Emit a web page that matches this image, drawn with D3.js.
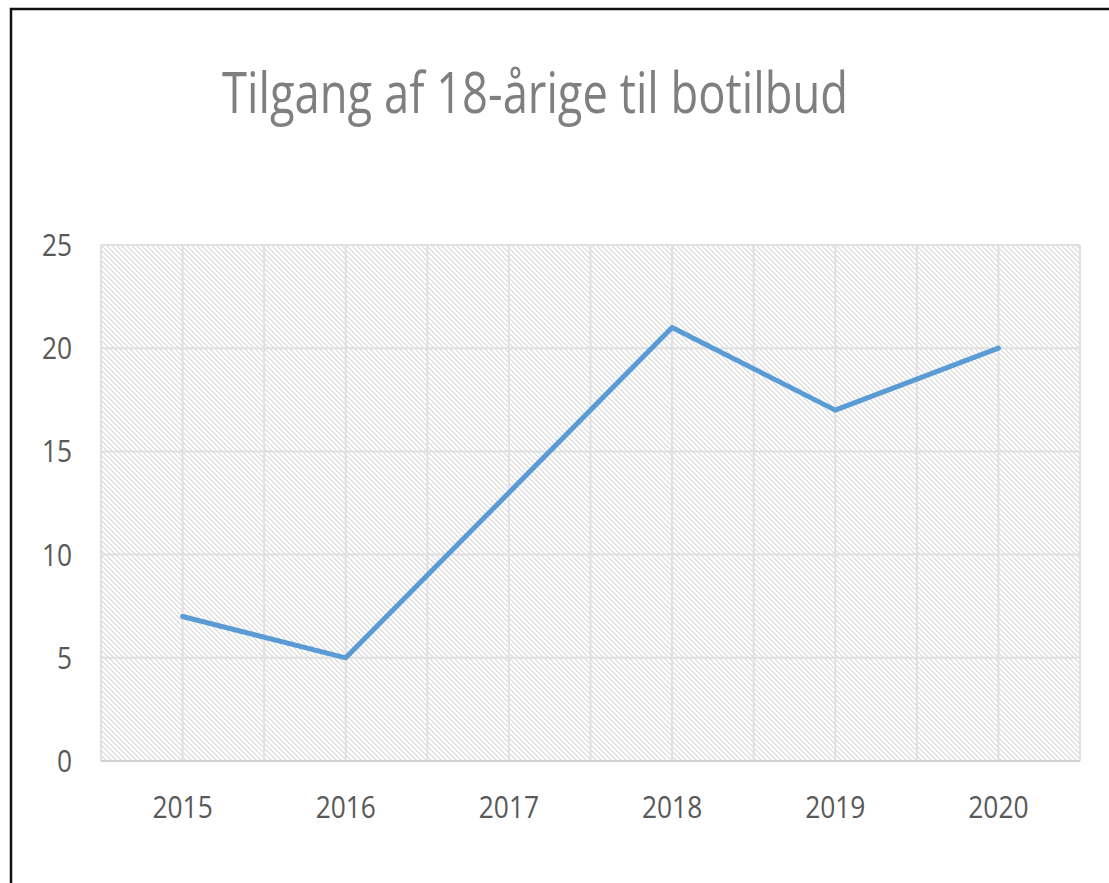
<!DOCTYPE html>
<html>
<head>
<meta charset="utf-8">
<script src="https://cdn.jsdelivr.net/npm/d3@7"></script>
<style>
  html, body { margin: 0; padding: 0; background: #fff; }
  svg { display: block; }
  text { font-family: "Open Sans", sans-serif; }
</style>
</head>
<body>
<div id="vis"></div>
<script>
// data
var years = ["2015", "2016", "2017", "2018", "2019", "2020"];
var values = [7, 5, 13, 21, 17, 20];
var yTicks = [0, 5, 10, 15, 20, 25];
var title = "Tilgang af 18-årige til botilbud";

var W = 1109, H = 883;
var margin = {top: 245, right: 29, bottom: 122, left: 101},
    width = W - margin.left - margin.right,
    height = H - margin.top - margin.bottom;

var svg = d3.select("#vis").append("svg")
  .attr("width", W)
  .attr("height", H);

// hatch fill of the plot area
var defs = svg.append("defs");
var pat = defs.append("pattern")
  .attr("id", "hatch")
  .attr("patternUnits", "userSpaceOnUse")
  .attr("width", 5)
  .attr("height", 5);
pat.append("path")
  .attr("d", "M-1,-1 L6,6 M-1,4 L1,6 M4,-1 L6,1")
  .attr("stroke", "#d8d8d8")
  .attr("stroke-width", 1.2);

// outer frame (only top and left show inside the picture)
svg.append("rect")
  .attr("x", 11).attr("y", 9)
  .attr("width", 1300).attr("height", 1000)
  .attr("fill", "none")
  .attr("stroke", "#111")
  .attr("stroke-width", 2.5);

svg.append("text")
  .attr("x", 535)
  .attr("y", 113)
  .attr("text-anchor", "middle")
  .attr("textLength", 626)
  .attr("lengthAdjust", "spacingAndGlyphs")
  .style("font-size", "56px")
  .style("fill", "#7f7f7f")
  .text(title);

var g = svg.append("g")
  .attr("transform", "translate(" + margin.left + "," + margin.top + ")");

var x = d3.scaleBand()
  .domain(years)
  .range([0, width]);

var y = d3.scaleLinear()
  .domain([0, 25])
  .range([height, 0]);

g.append("rect")
  .attr("width", width)
  .attr("height", height)
  .attr("fill", "url(#hatch)");

// horizontal gridlines
g.selectAll(".hgrid")
  .data(yTicks)
  .enter().append("line")
    .attr("class", "hgrid")
    .attr("x1", 0).attr("x2", width)
    .attr("y1", function(d){ return y(d); })
    .attr("y2", function(d){ return y(d); })
    .attr("stroke", "#e0e0e0")
    .attr("stroke-width", 2);

// vertical gridlines at band edges and centres
var vlines = [];
years.forEach(function(yr){
  vlines.push(x(yr));
  vlines.push(x(yr) + x.bandwidth() / 2);
});
vlines.push(width);

g.selectAll(".vgrid")
  .data(vlines)
  .enter().append("line")
    .attr("class", "vgrid")
    .attr("x1", function(d){ return d; })
    .attr("x2", function(d){ return d; })
    .attr("y1", 0).attr("y2", height)
    .attr("stroke", "#e0e0e0")
    .attr("stroke-width", 2);

// x axis line
g.append("line")
  .attr("x1", 0).attr("x2", width)
  .attr("y1", height).attr("y2", height)
  .attr("stroke", "#d0d0d0")
  .attr("stroke-width", 2);

// y labels
g.selectAll(".ylab")
  .data(yTicks)
  .enter().append("text")
    .attr("class", "ylab")
    .attr("transform", function(d){ return "translate(-29," + (y(d) + 11) + ") scale(0.85,1)"; })
    .attr("text-anchor", "end")
    .style("font-size", "31px")
    .style("fill", "#595959")
    .text(function(d){ return d; });

// x labels
g.selectAll(".xlab")
  .data(years)
  .enter().append("text")
    .attr("class", "xlab")
    .attr("transform", function(d){ return "translate(" + (x(d) + x.bandwidth() / 2) + "," + (height + 57) + ") scale(0.85,1)"; })
    .attr("text-anchor", "middle")
    .style("font-size", "31px")
    .style("fill", "#595959")
    .text(function(d){ return d; });

var line = d3.line()
  .x(function(d, i){ return x(years[i]) + x.bandwidth() / 2; })
  .y(function(d){ return y(d); });

g.append("path")
  .datum(values)
  .attr("d", line)
  .attr("fill", "none")
  .attr("stroke", "#5b9bd5")
  .attr("stroke-width", 5)
  .attr("stroke-linejoin", "round")
  .attr("stroke-linecap", "round");
</script>
</body>
</html>
